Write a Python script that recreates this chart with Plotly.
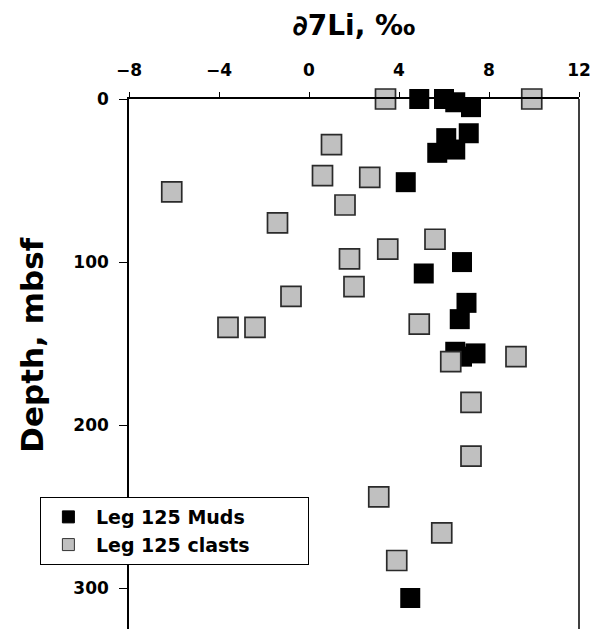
import plotly.graph_objects as go

# Leg 125 Muds
muds_li = [4.9, 6.0, 6.5, 7.2, 7.1, 6.1, 5.7, 6.5, 4.3, 6.8, 5.1, 7.0, 6.7, 6.5, 7.4, 6.8, 4.5]
muds_depth = [0, 0, 2, 5, 21, 24, 33, 31, 51, 100, 107, 125, 135, 155, 156, 158, 306]

# Leg 125 clasts
clasts_li = [3.4, 9.9, 1.0, 0.6, 2.7, -6.1, 1.6, -1.4, 5.6, 3.5, 1.8, 2.0, -0.8, -3.6, -2.4,
             4.9, 6.3, 9.2, 7.2, 7.2, 3.1, 5.9, 3.9]
clasts_depth = [0, 0, 28, 47, 48, 57, 65, 76, 86, 92, 98, 115, 121, 140, 140,
                138, 161, 158, 186, 219, 244, 266, 283]

x_ticks = [-8, -4, 0, 4, 8, 12]
y_ticks = [0, 100, 200, 300]

FONT = "DejaVu Sans"
PAD = "\u00a0" * 8

fig = go.Figure()
fig.add_trace(go.Scatter(
    x=muds_li, y=muds_depth, mode="markers", showlegend=False, cliponaxis=False,
    marker=dict(symbol="square", size=20, color="#000000",
                line=dict(color="#000000", width=0)),
))
fig.add_trace(go.Scatter(
    x=clasts_li, y=clasts_depth, mode="markers", showlegend=False, cliponaxis=False,
    marker=dict(symbol="square", size=20, color="#c0c0c0",
                line=dict(color="#2a2a2a", width=1.7)),
))
# legend entries
fig.add_trace(go.Scatter(
    x=[None], y=[None], mode="markers", name="Leg 125 Muds" + PAD,
    marker=dict(symbol="square", size=12, color="#000000",
                line=dict(color="#000000", width=1)),
))
fig.add_trace(go.Scatter(
    x=[None], y=[None], mode="markers", name="Leg 125 clasts" + PAD,
    marker=dict(symbol="square", size=12, color="#c0c0c0",
                line=dict(color="#333333", width=1)),
))

fig.update_layout(
    width=592, height=629,
    margin=dict(l=129, r=13, t=99, b=0),
    paper_bgcolor="white", plot_bgcolor="white",
    font=dict(family=FONT, color="black"),
    xaxis=dict(
        side="top", range=[-8, 12], tickvals=x_ticks,
        ticks="outside", ticklen=5, tickwidth=1, tickcolor="black",
        ticklabelstandoff=9,
        showline=True, linecolor="black", linewidth=1.5,
        showgrid=False, zeroline=False,
        tickfont=dict(family=FONT, size=17, color="black", weight="bold"),
        title=dict(text="∂7Li, ‰", font=dict(family=FONT, size=28, weight="bold"),
                   standoff=17),
    ),
    yaxis=dict(
        range=[325, 0], tickvals=y_ticks,
        ticks="outside", ticklen=8, tickwidth=1, tickcolor="black",
        ticklabelstandoff=7,
        showline=True, linecolor="black", linewidth=1.5,
        showgrid=False, zeroline=False,
        tickfont=dict(family=FONT, size=17, color="black", weight="bold"),
    ),
    legend=dict(
        x=-0.198, y=0.249, xanchor="left", yanchor="top",
        bgcolor="white", bordercolor="black", borderwidth=1,
        font=dict(family=FONT, size=19, color="black", weight="bold"),
        itemsizing="trace", tracegroupgap=0, itemwidth=45,
    ),
    shapes=[dict(type="line", xref="paper", yref="paper", x0=1, x1=1, y0=0, y1=1,
                 line=dict(color="black", width=1.5))],
    annotations=[dict(text="Depth, mbsf", xref="paper", yref="paper",
                      x=-0.216, y=0.536, xanchor="center", yanchor="middle",
                      textangle=-90, showarrow=False,
                      font=dict(family=FONT, size=31, color="black", weight="bold"))],
)

fig.write_html("out.html", config={"displayModeBar": False},
               post_script="document.body.style.margin='0';document.body.style.overflow='hidden';")
